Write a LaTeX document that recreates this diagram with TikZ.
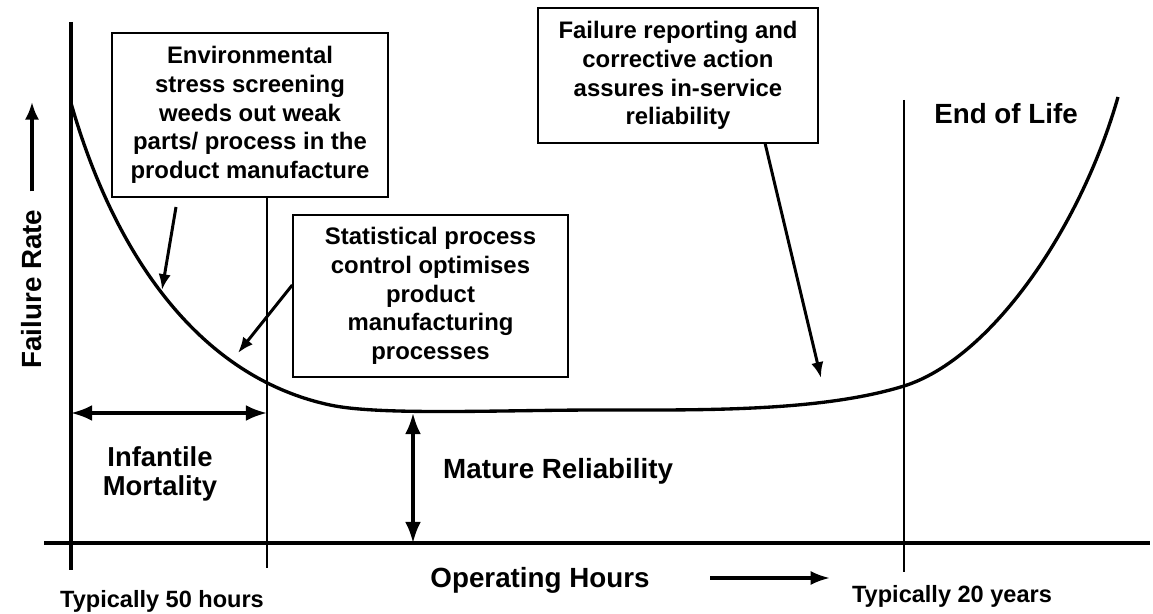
\documentclass[tikz,border=0pt]{standalone}
\usepackage{fontspec}
\setmainfont{Liberation Sans}
\usetikzlibrary{arrows.meta, positioning}

\begin{document}
\begin{tikzpicture}[x=0.02cm, y=-0.02cm,
    infobox/.style={draw, line width=0.85pt, align=center, inner sep=0pt,
      font=\bfseries\fontsize{13.6}{16.4}\selectfont},
    bigtext/.style={font=\bfseries\fontsize{15.8}{17}\selectfont},
    smalltext/.style={font=\bfseries\fontsize{13.4}{16}\selectfont},
    axis/.style={line width=2.3pt},
    marker/.style={line width=0.9pt},
    leader/.style={-{Latex[length=9pt,width=7pt]}, line width=1.7pt},
    span/.style={{Latex[length=12pt,width=9pt]}-{Latex[length=12pt,width=9pt]}, line width=1.8pt}]

        \useasboundingbox (0,0) rectangle (1153,614);

        % Trục tọa độ
        \coordinate (ytop) at (71,22);
        \coordinate (ybot) at (71,570);
        \coordinate (xleft) at (44,543);
        \coordinate (xright) at (1150,543);
        \draw[axis] (ytop) -- (ybot); % Trục Failure Rate
        \draw[axis] (xleft) -- (xright); % Trục Operating Hours

        % Đường mốc thời gian
        \coordinate (m1top) at (267,197);
        \coordinate (m1bot) at (267,568);
        \coordinate (m2top) at (904,100);
        \coordinate (m2bot) at (904,572);
        \draw[marker] (m1top) -- (m1bot);
        \draw[marker] (m2top) -- (m2bot);

        % Đường cong bồn tắm
        \draw[line width=1.9pt] (71,103) .. controls (110,240) and (190,375) .. (330,405)
            .. controls (380,415.7) and (500,410) .. (600,410)
            .. controls (700,410) and (820,412) .. (904,386)
            .. controls (990,359) and (1080,230) .. (1118,97);

        % Nhãn trục
        \node[bigtext, rotate=90] (frate) at (32,289) {Failure Rate};
        \coordinate (fratetip) at (32,102);
        \draw[-{Latex[length=10pt,width=8pt]}, line width=1.8pt] (frate.east) ++(0,-12) coordinate (fratestart) -- (fratetip);
        \node[bigtext] (ophours) at (540,580) {Operating Hours};
        \coordinate (opstart) at (710,578);
        \coordinate (optip) at (830,578);
        \draw[-{Latex[length=11pt,width=8pt]}, line width=1.8pt] (opstart) -- (optip);

        % Các hộp chú thích
        \node[infobox, minimum width=5.52cm, minimum height=3.28cm] (ess) at (250,115)
            {Environmental\\stress screening\\weeds out weak\\parts/ process in the\\product manufacture};
        \node[infobox, minimum width=5.5cm, minimum height=3.24cm] (spc) at (430.5,296)
            {Statistical process\\control optimises\\product\\manufacturing\\processes};
        \node[infobox, minimum width=5.6cm, minimum height=2.7cm] (fracas) at (678,75.5)
            {Failure reporting and\\corrective action\\assures in-service\\reliability};

        % Mũi tên chỉ vào đường cong
        \coordinate (esstip) at (162,290);
        \coordinate (spctip) at (238,353);
        \coordinate (fracastip) at (821,378);
        \draw[leader] (176,207) coordinate (essstart) -- (esstip);
        \draw[leader] (spc.west |- 0,285) coordinate (spcstart) -- (spctip);
        \draw[leader] (765,143) coordinate (fracasstart) -- (fracastip);

        % Khoảng Infantile Mortality và Mature Reliability
        \coordinate (infl) at (71,413);
        \coordinate (infr) at (267,413);
        \draw[span] (infl) -- (infr);
        \coordinate (matt) at (413,413);
        \coordinate (matb) at (413,543);
        \draw[span] (matt) -- (matb);

        \node[align=center, font=\bfseries\fontsize{15.6}{16.2}\selectfont] (infant) at (160,474) {Infantile\\Mortality};
        \node[bigtext, anchor=west] (mature) at (437,471) {Mature Reliability};
        \node[bigtext] (eol) at (1006,114) {End of Life};

        % Mốc thời gian
        \node[smalltext] (t50) at (162,601) {Typically 50 hours};
        \node[smalltext] (t20) at (952,596) {Typically 20 years};

\end{tikzpicture}
\end{document}
